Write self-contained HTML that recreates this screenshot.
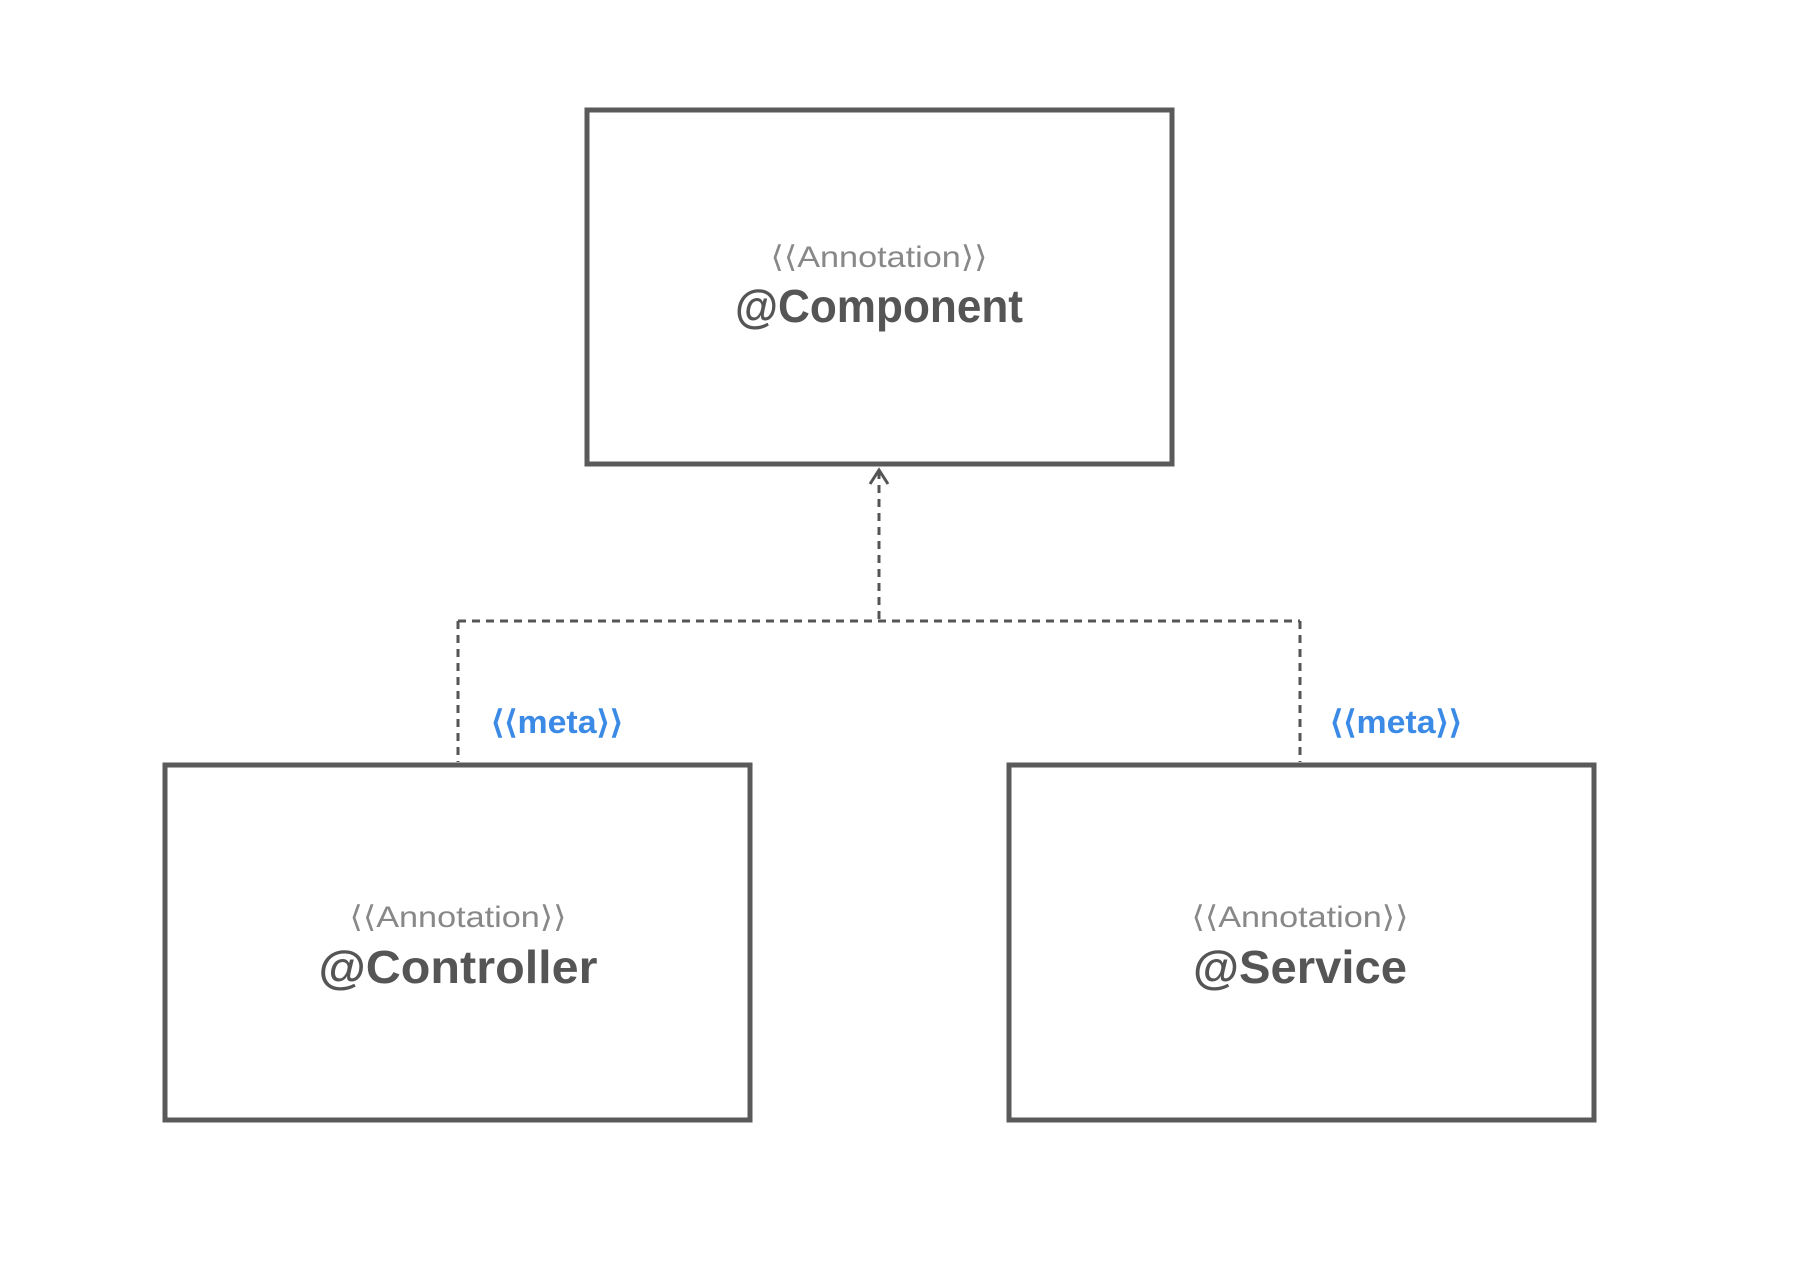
<!DOCTYPE html>
<html><head><style>html,body{margin:0;padding:0;background:#fff;}</style></head>
<body>
<svg width="1812" height="1282" viewBox="0 0 1812 1282" xmlns="http://www.w3.org/2000/svg" font-family="Liberation Sans, sans-serif">
<rect x="0" y="0" width="1812" height="1282" fill="#fff"/>
<g fill="none" stroke="#5a5a5a" stroke-width="5">
<rect x="587" y="110" width="585" height="354"/>
<rect x="165" y="765" width="585" height="355"/>
<rect x="1009" y="765" width="585" height="355"/>
</g>
<g fill="none" stroke="#555" stroke-width="3" stroke-dasharray="8,6">
<path d="M879 471 V621 M458 621 H1300 M458 621 V762 M1300 621 V762"/>
</g>
<path d="M870 484 L879 470 L888 484" fill="none" stroke="#555" stroke-width="3"/>
<g text-anchor="middle">
<text x="879" y="267" font-size="30" fill="#888" textLength="217" lengthAdjust="spacingAndGlyphs">⟨⟨Annotation⟩⟩</text>
<text x="879" y="322" font-size="46" font-weight="bold" fill="#555" textLength="288" lengthAdjust="spacingAndGlyphs">@Component</text>
<text x="458" y="927" font-size="30" fill="#888" textLength="217" lengthAdjust="spacingAndGlyphs">⟨⟨Annotation⟩⟩</text>
<text x="458" y="983" font-size="46" font-weight="bold" fill="#555" textLength="279" lengthAdjust="spacingAndGlyphs">@Controller</text>
<text x="1300" y="927" font-size="30" fill="#888" textLength="217" lengthAdjust="spacingAndGlyphs">⟨⟨Annotation⟩⟩</text>
<text x="1300" y="983" font-size="46" font-weight="bold" fill="#555" textLength="214" lengthAdjust="spacingAndGlyphs">@Service</text>
<text x="557" y="733" font-size="32" font-weight="bold" fill="#3b8ae6" textLength="132" lengthAdjust="spacingAndGlyphs">⟨⟨meta⟩⟩</text>
<text x="1396" y="733" font-size="32" font-weight="bold" fill="#3b8ae6" textLength="132" lengthAdjust="spacingAndGlyphs">⟨⟨meta⟩⟩</text>
</g>
</svg>
</body></html>
